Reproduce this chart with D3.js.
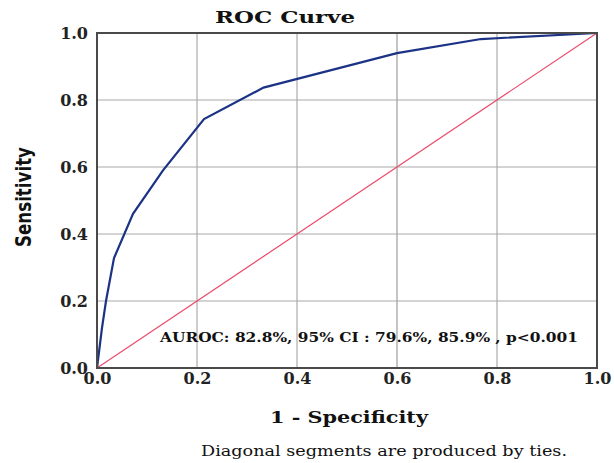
<!DOCTYPE html>
<html>
<head>
<meta charset="utf-8">
<script src="https://cdn.jsdelivr.net/npm/d3@7"></script>
<style>
  body { margin: 0; background: #fff; }
  svg text { fill: #111; }
</style>
</head>
<body>
<script>
// ROC data
var fpr = [0, 0.01, 0.018, 0.034, 0.072, 0.132, 0.214, 0.333, 0.6, 0.768, 1];
var tpr = [0, 0.12, 0.2, 0.328, 0.46, 0.59, 0.743, 0.837, 0.94, 0.982, 1];
var diagonal = [0, 1];
var ticks = [0, 0.2, 0.4, 0.6, 0.8, 1.0];
var annotation = "AUROC: 82.8%, 95% CI : 79.6%, 85.9% , p<0.001";

var W = 614, H = 463;
var margin = { left: 97, right: 17, top: 33, bottom: 95 };

var svg = d3.select("body").append("svg")
    .attr("width", W).attr("height", H);

var x = d3.scaleLinear().domain([0, 1]).range([margin.left, W - margin.right]);
var y = d3.scaleLinear().domain([0, 1]).range([H - margin.bottom, margin.top]);

// grid
svg.append("g")
    .selectAll("line")
    .data(ticks.slice(1, -1))
    .enter().append("line")
    .attr("x1", function(d) { return x(d); })
    .attr("x2", function(d) { return x(d); })
    .attr("y1", y(0)).attr("y2", y(1))
    .attr("stroke", function(d) { return d == 0.6 ? "#c4c4c4" : "#9a9a9a"; })
    .attr("stroke-width", function(d) { return d == 0.6 ? 2 : 1; });
svg.append("g")
    .selectAll("line")
    .data(ticks.slice(1, -1))
    .enter().append("line")
    .attr("y1", function(d) { return y(d); })
    .attr("y2", function(d) { return y(d); })
    .attr("x1", x(0)).attr("x2", x(1))
    .attr("stroke", "#a8a8a8")
    .attr("stroke-width", 1);

// diagonal
svg.append("line")
    .attr("x1", x(diagonal[0])).attr("y1", y(diagonal[0]))
    .attr("x2", x(diagonal[1])).attr("y2", y(diagonal[1]))
    .attr("stroke", "#ec4a6c").attr("stroke-width", 1.2);

// curve
var line = d3.line()
    .x(function(d, i) { return x(fpr[i]); })
    .y(function(d, i) { return y(tpr[i]); });
svg.append("path")
    .datum(fpr)
    .attr("d", line)
    .attr("fill", "none")
    .attr("stroke", "#1b3285")
    .attr("stroke-width", 2.2);

// frame
svg.append("rect")
    .attr("x", x(0)).attr("y", y(1))
    .attr("width", x(1) - x(0)).attr("height", y(0) - y(1))
    .attr("fill", "none").attr("stroke", "#4a4a4a").attr("stroke-width", 2);

// axes
var fmt = d3.format(".1f");
var yAxis = svg.append("g")
    .attr("transform", "translate(" + x(0) + ",0)")
    .call(d3.axisLeft(y).tickValues(ticks).tickFormat(fmt).tickSize(0).tickPadding(9));
var xAxis = svg.append("g")
    .attr("transform", "translate(0," + y(0) + ")")
    .call(d3.axisBottom(x).tickValues(ticks).tickFormat(fmt).tickSize(0).tickPadding(5));
[xAxis, yAxis].forEach(function(a) {
    a.select(".domain").remove();
    a.selectAll("text")
        .style("font-family", "'DejaVu Serif', serif")
        .style("font-size", "16px")
        .style("font-weight", "600")
        .style("fill", "#222");
});

// titles
svg.append("text")
    .attr("x", 215).attr("y", 23)
    .attr("textLength", 140).attr("lengthAdjust", "spacingAndGlyphs")
    .style("font-family", "'DejaVu Serif', serif")
    .style("font-weight", "bold").style("font-size", "17px")
    .text("ROC Curve");

svg.append("text")
    .attr("transform", "translate(31,247) rotate(-90)")
    .attr("textLength", 100).attr("lengthAdjust", "spacingAndGlyphs")
    .style("font-family", "'DejaVu Sans Condensed', 'DejaVu Sans', sans-serif")
    .style("font-weight", "bold").style("font-size", "21px")
    .text("Sensitivity");

svg.append("text")
    .attr("x", 270).attr("y", 423)
    .attr("textLength", 158).attr("lengthAdjust", "spacingAndGlyphs")
    .style("font-family", "'DejaVu Serif', serif")
    .style("font-weight", "bold").style("font-size", "17px")
    .text("1 - Specificity");

svg.append("text")
    .attr("x", 201).attr("y", 456)
    .attr("textLength", 366).attr("lengthAdjust", "spacingAndGlyphs")
    .style("font-family", "'DejaVu Serif', serif")
    .style("font-size", "14px")
    .text("Diagonal segments are produced by ties.");

svg.append("text")
    .attr("x", 160).attr("y", 342)
    .attr("textLength", 418).attr("lengthAdjust", "spacingAndGlyphs")
    .style("font-family", "'DejaVu Serif', serif")
    .style("font-weight", "bold").style("font-size", "12.5px")
    .text(annotation);
</script>
</body>
</html>
